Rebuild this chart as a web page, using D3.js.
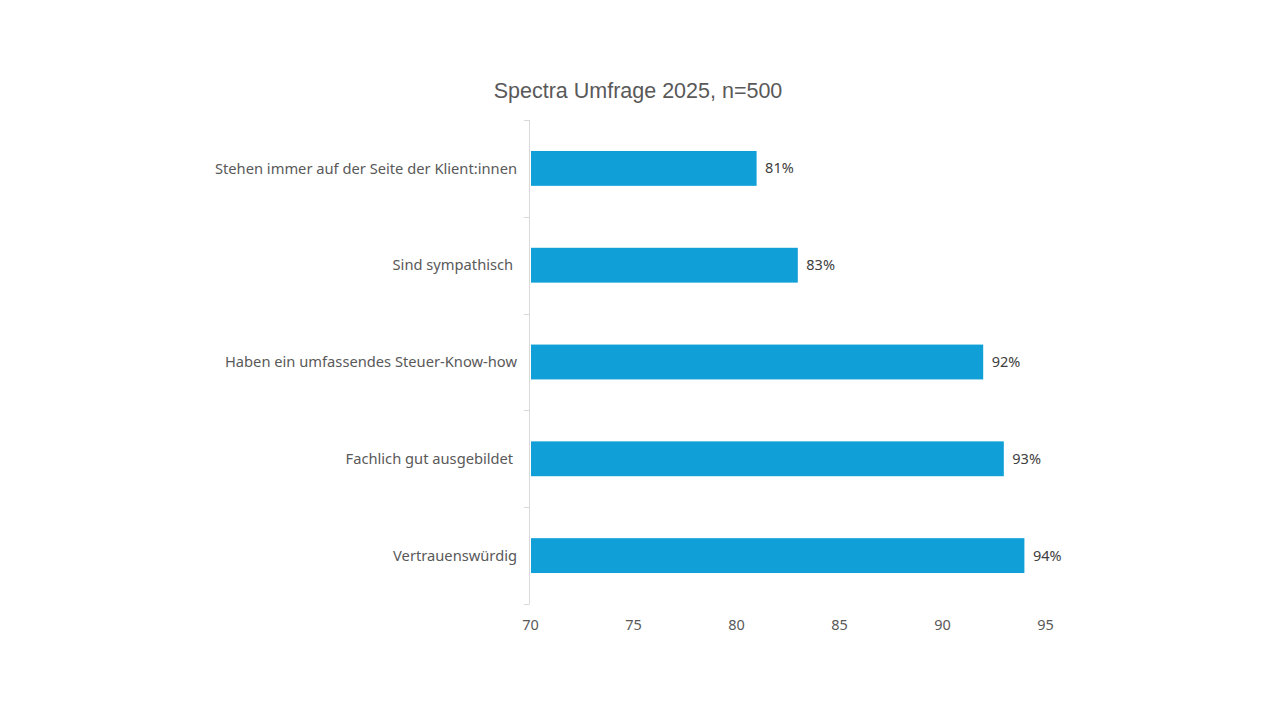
<!DOCTYPE html>
<html>
<head>
<meta charset="utf-8">
<script src="https://cdn.jsdelivr.net/npm/d3@7"></script>
<style>
  body { margin: 0; background: #fff; }
  #chart { width: 1278px; height: 709px; }
  text.cat { white-space: pre; }
</style>
</head>
<body>
<div id="chart"></div>
<script>
// Data
const categories = [
  "Stehen immer auf der Seite der Klient:innen",
  "Sind sympathisch ",
  "Haben ein umfassendes Steuer-Know-how",
  "Fachlich gut ausgebildet ",
  "Vertrauenswürdig"
];
const values = [81, 83, 92, 93, 94];
const xTicks = [70, 75, 80, 85, 90, 95];
const title = "Spectra Umfrage 2025, n=500";

document.addEventListener("DOMContentLoaded", () => {
  const width = 1278;
  const height = 709;
  const left = 530;
  const right = 1045;
  const top = 120;
  const bottom = 604;
  const labelFont = "'Noto Sans', Roboto, sans-serif";

  const svg = d3
    .select("#chart")
    .append("svg")
    .attr("width", width)
    .attr("height", height);

  // Scales
  const xScale = d3.scaleLinear().domain([70, 95]).range([left, right]);
  const yScale = d3
    .scaleBand()
    .domain(categories)
    .range([top, bottom])
    .padding(0);
  const barHeight = yScale.bandwidth() * 0.36;

  // Title
  svg
    .append("text")
    .attr("x", 638)
    .attr("y", 98)
    .attr("text-anchor", "middle")
    .attr("font-family", "'Liberation Sans', Arial, sans-serif")
    .attr("font-size", 21.5)
    .attr("fill", "#595959")
    .text(title);

  // Bars
  svg
    .selectAll("rect.bar")
    .data(values)
    .enter()
    .append("rect")
    .attr("class", "bar")
    .attr("x", xScale(70) + 1)
    .attr("y", (d, i) => yScale(categories[i]) + (yScale.bandwidth() - barHeight) / 2)
    .attr("width", (d) => xScale(d) - xScale(70) - 1)
    .attr("height", barHeight)
    .attr("fill", "#109fd6");

  // Data labels
  svg
    .selectAll("text.value")
    .data(values)
    .enter()
    .append("text")
    .attr("class", "value")
    .attr("x", (d) => xScale(d) + 8.5)
    .attr("y", (d, i) => yScale(categories[i]) + yScale.bandwidth() / 2)
    .attr("dy", "0.35em")
    .attr("font-family", labelFont)
    .attr("font-size", 14.5)
    .attr("fill", "#404040")
    .text((d) => d + "%");

  // Y axis (ticks at band boundaries)
  const yAxisG = svg.append("g").attr("stroke", "#d9d9d9").attr("fill", "none");
  yAxisG
    .append("line")
    .attr("x1", left - 0.5)
    .attr("x2", left - 0.5)
    .attr("y1", top)
    .attr("y2", bottom);
  const bounds = categories.map((c) => yScale(c)).concat([bottom]);
  yAxisG
    .selectAll("line.tick")
    .data(bounds)
    .enter()
    .append("line")
    .attr("class", "tick")
    .attr("x1", left - 6)
    .attr("x2", left - 0.5)
    .attr("y1", (d) => Math.round(d) + 0.5)
    .attr("y2", (d) => Math.round(d) + 0.5);

  // Category labels
  svg
    .selectAll("text.cat")
    .data(categories)
    .enter()
    .append("text")
    .attr("class", "cat")
    .attr("x", left - 13)
    .attr("y", (d) => yScale(d) + yScale.bandwidth() / 2)
    .attr("dy", "0.35em")
    .attr("text-anchor", "end")
    .attr("font-family", labelFont)
    .attr("font-size", 14.7)
    .attr("fill", "#595959")
    .text((d) => d);

  // X axis (labels only)
  const xAxis = d3.axisBottom(xScale).tickValues(xTicks).tickSize(0).tickPadding(16);
  const xAxisG = svg
    .append("g")
    .attr("transform", `translate(0, ${bottom})`)
    .call(xAxis);
  xAxisG.select(".domain").remove();
  xAxisG
    .selectAll(".tick text")
    .attr("font-family", labelFont)
    .attr("font-size", 14.5)
    .attr("fill", "#595959");
});
</script>
</body>
</html>
